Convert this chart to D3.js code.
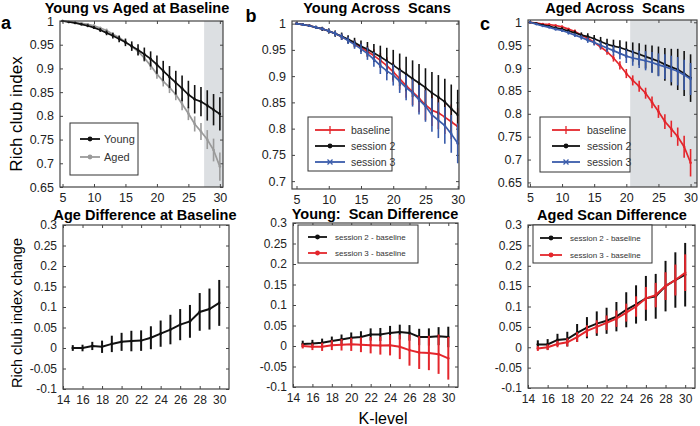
<!DOCTYPE html>
<html>
<head>
<script src="https://cdnjs.cloudflare.com/ajax/libs/d3/7.8.5/d3.min.js"></script>
<style>
  body { margin: 0; background: #fff; }
  svg { display: block; font-family: "Liberation Sans", Arial, sans-serif; }
</style>
</head>
<body>
<script>
// k-levels
var kTop = [5,6,7,8,9,10,11,12,13,14,15,16,17,18,19,20,21,22,23,24,25,26,27,28,29,30]
var kBottom = [15,16,17,18,19,20,21,22,23,24,25,26,27,28,29,30]

// rich club index, young & aged at baseline
var youngBase    = [1,0.998,0.996,0.993,0.99,0.986,0.981,0.975,0.969,0.962,0.955,0.947,0.939,0.93,0.92,0.908,0.895,0.882,0.87,0.858,0.845,0.835,0.83,0.822,0.813,0.804]
var youngBaseErr = [0.001,0.001,0.002,0.002,0.003,0.003,0.004,0.005,0.006,0.007,0.008,0.01,0.012,0.014,0.016,0.019,0.021,0.023,0.025,0.027,0.029,0.03,0.031,0.032,0.033,0.035]
var agedBase     = [1,0.998,0.996,0.995,0.993,0.99,0.985,0.98,0.972,0.965,0.956,0.946,0.936,0.922,0.906,0.888,0.873,0.86,0.845,0.825,0.805,0.783,0.767,0.75,0.728,0.693]
var agedBaseErr  = [0.001,0.001,0.002,0.002,0.002,0.003,0.003,0.004,0.004,0.005,0.005,0.006,0.007,0.008,0.009,0.01,0.011,0.012,0.012,0.013,0.014,0.016,0.018,0.02,0.024,0.03]

// young across scans
var youngS2    = [1,0.998,0.996,0.993,0.99,0.986,0.981,0.976,0.97,0.964,0.957,0.951,0.944,0.937,0.929,0.921,0.912,0.904,0.895,0.887,0.878,0.868,0.86,0.851,0.838,0.826]
var youngS2Err = [0.001,0.002,0.002,0.003,0.004,0.005,0.006,0.007,0.008,0.009,0.011,0.014,0.017,0.021,0.025,0.029,0.031,0.033,0.035,0.036,0.037,0.04,0.042,0.044,0.046,0.048]
var youngS3    = [1,0.998,0.996,0.993,0.99,0.986,0.981,0.975,0.968,0.96,0.952,0.943,0.932,0.92,0.91,0.902,0.89,0.878,0.868,0.855,0.843,0.826,0.816,0.806,0.79,0.772]
var youngS3Err = [0.001,0.002,0.002,0.003,0.003,0.004,0.005,0.006,0.007,0.008,0.01,0.012,0.014,0.016,0.018,0.02,0.022,0.024,0.026,0.028,0.03,0.032,0.034,0.035,0.036,0.038]

// aged across scans
var agedS2    = [1,0.997,0.994,0.991,0.988,0.985,0.981,0.977,0.972,0.969,0.964,0.958,0.952,0.948,0.945,0.94,0.935,0.93,0.925,0.92,0.915,0.908,0.902,0.897,0.888,0.878]
var agedS2Err = [0.001,0.002,0.002,0.003,0.003,0.004,0.004,0.005,0.006,0.007,0.008,0.01,0.012,0.014,0.016,0.018,0.021,0.024,0.026,0.029,0.032,0.036,0.04,0.045,0.049,0.052]
var agedS3    = [1,0.996,0.992,0.989,0.985,0.982,0.977,0.972,0.967,0.961,0.956,0.95,0.944,0.938,0.932,0.926,0.922,0.919,0.916,0.912,0.907,0.903,0.898,0.893,0.885,0.876]
var agedS3Err = [0.001,0.002,0.002,0.002,0.003,0.003,0.004,0.004,0.005,0.006,0.007,0.008,0.009,0.011,0.013,0.015,0.017,0.019,0.021,0.023,0.025,0.027,0.029,0.031,0.033,0.035]

// differences (bottom row)
var ageDiff    = [0,0,0.005,0.003,0.01,0.015,0.017,0.018,0.025,0.035,0.045,0.057,0.065,0.088,0.095,0.11]
var ageDiffErr = [0.007,0.008,0.01,0.015,0.02,0.022,0.025,0.025,0.028,0.032,0.036,0.038,0.04,0.046,0.05,0.056]
var youngD2    = [0.005,0.006,0.008,0.012,0.016,0.02,0.022,0.028,0.028,0.032,0.034,0.032,0.022,0.022,0.024,0.022]
var youngD2Err = [0.008,0.009,0.01,0.011,0.012,0.013,0.014,0.015,0.016,0.017,0.018,0.019,0.02,0.021,0.022,0.025]
var youngD3    = [0,-0.002,-0.002,0.002,0.003,0.004,0.003,0.002,0.001,0.002,-0.002,-0.01,-0.016,-0.017,-0.02,-0.03]
var youngD3Err = [0.006,0.008,0.01,0.012,0.014,0.016,0.018,0.02,0.022,0.025,0.03,0.038,0.04,0.042,0.048,0.052]
var agedD2     = [0.007,0.007,0.018,0.02,0.035,0.048,0.058,0.065,0.075,0.092,0.105,0.12,0.125,0.15,0.165,0.178]
var agedD2Err  = [0.01,0.013,0.015,0.018,0.022,0.026,0.03,0.032,0.036,0.043,0.047,0.055,0.055,0.062,0.068,0.078]
var agedD3     = [-0.003,0,0.008,0.012,0.025,0.04,0.05,0.06,0.07,0.085,0.1,0.12,0.128,0.15,0.165,0.183]
var agedD3Err  = [0.006,0.007,0.008,0.01,0.012,0.014,0.016,0.018,0.02,0.022,0.025,0.028,0.03,0.034,0.038,0.045]

var topTicksX = [5,10,15,20,25,30]
var bottomTicksX = [14,16,18,20,22,24,26,28,30]
var bottomTicksY = [-0.1,-0.05,0,0.05,0.1,0.15,0.2,0.25,0.3]

var RED = "#e4262c", BLUE = "#3a5cab", GRAY = "#9a9a9a", BLK = "#111"

var svg = d3.select("body").append("svg")
    .attr("width", 700)
    .attr("height", 426)

function fmt(d) {
    return String(+d.toFixed(2))
}

function panel(p) {
    var x = d3.scaleLinear().domain(p.xd).range([p.x0, p.x1])
    var y = d3.scaleLinear().domain(p.yd).range([p.y1, p.y0])
    var g = svg.append("g")

    if (p.shade) {
        g.append("rect")
            .attr("x", x(p.shade))
            .attr("y", p.y0)
            .attr("width", p.x1 - x(p.shade))
            .attr("height", p.y1 - p.y0)
            .style("fill", "#dcdfe2")
    }

    // axes: labels bottom/left, inward ticks on all four sides
    var fs = p.fs || 12.5
    g.append("g").attr("transform", "translate(0," + p.y1 + ")")
        .call(d3.axisBottom(x).tickValues(p.xt).tickSize(-3).tickPadding(6).tickFormat(fmt))
    g.append("g").attr("transform", "translate(" + p.x0 + ",0)")
        .call(d3.axisLeft(y).tickValues(p.yt).tickSize(-3).tickPadding(6).tickFormat(fmt))
    g.append("g").attr("transform", "translate(0," + p.y0 + ")")
        .call(d3.axisTop(x).tickValues(p.xt).tickSize(-3).tickFormat(""))
    g.append("g").attr("transform", "translate(" + p.x1 + ",0)")
        .call(d3.axisRight(y).tickValues(p.yt).tickSize(-3).tickFormat(""))
    g.selectAll(".domain").remove()
    g.selectAll(".tick line").style("stroke", "#444")
    g.selectAll(".tick text").style("font-size", fs + "px").style("fill", "#222")
        .style("font-family", "'Liberation Sans', Arial, sans-serif")

    // series
    p.series.forEach(function(s) {
        var pts = s.k.map(function(k, i) { return {k: k, v: s.v[i], e: s.e[i]} })
        var eg = g.append("g").style("stroke", s.c).style("stroke-width", s.ew || 1.6)
        eg.selectAll("line.bar").data(pts).enter().append("line")
            .attr("x1", function(d) { return x(d.k) })
            .attr("x2", function(d) { return x(d.k) })
            .attr("y1", function(d) { return y(d.v - d.e) })
            .attr("y2", function(d) { return y(d.v + d.e) })
        g.append("path")
            .datum(pts)
            .attr("d", d3.line().x(function(d) { return x(d.k) }).y(function(d) { return y(d.v) }))
            .style("fill", "none")
            .style("stroke", s.c)
            .style("stroke-width", s.lw || 1.7)
        g.selectAll(null).data(pts).enter().append("circle")
            .attr("cx", function(d) { return x(d.k) })
            .attr("cy", function(d) { return y(d.v) })
            .attr("r", 1.3)
            .style("fill", s.c)
    })

    // box
    g.append("rect")
        .attr("x", p.x0).attr("y", p.y0)
        .attr("width", p.x1 - p.x0).attr("height", p.y1 - p.y0)
        .style("fill", "none").style("stroke", "#444").style("stroke-width", 1.2)

    // title
    svg.append("text")
        .attr("x", p.tx).attr("y", p.ty)
        .attr("text-anchor", "middle")
        .style("font-weight", "bold").style("font-size", "14.5px")
        .style("white-space", "pre")
        .text(p.title)

    // legend
    if (p.leg) {
        var L = p.leg
        var lg = svg.append("g")
        lg.append("rect")
            .attr("x", L.x).attr("y", L.y).attr("width", L.w).attr("height", L.h)
            .style("fill", "#fff").style("stroke", "#333").style("stroke-width", 1)
        L.items.forEach(function(it, i) {
            var yy = L.ys[i]
            lg.append("line")
                .attr("x1", L.lx0).attr("x2", L.lx1).attr("y1", yy).attr("y2", yy)
                .style("stroke", it.c).style("stroke-width", 1.8)
            var mx = (L.lx0 + L.lx1) / 2
            if (it.m === "+") {
                lg.append("line").attr("x1", mx).attr("x2", mx).attr("y1", yy - 4).attr("y2", yy + 4)
                    .style("stroke", it.c).style("stroke-width", 1.3)
            } else if (it.m === "x") {
                lg.append("path").attr("d", "M" + (mx - 2.5) + "," + (yy - 2.5) + "l5,5M" + (mx - 2.5) + "," + (yy + 2.5) + "l5,-5")
                    .style("stroke", it.c).style("stroke-width", 1.3)
            } else {
                lg.append("circle").attr("cx", mx).attr("cy", yy).attr("r", 2.4).style("fill", it.c)
            }
            lg.append("text")
                .attr("x", L.tx).attr("y", yy).attr("dy", "0.35em")
                .style("font-size", L.fs + "px").style("fill", "#333")
                .text(it.t)
        })
    }
}

// top row
panel({x0: 60, x1: 223, y0: 21, y1: 187, xd: [4.6, 30.5], yd: [0.65, 1.0],
    xt: topTicksX, yt: [0.65,0.7,0.75,0.8,0.85,0.9,0.95,1], shade: 27.5,
    title: "Young vs Aged at Baseline", tx: 137, ty: 13,
    series: [
        {k: kTop, v: agedBase, e: agedBaseErr, c: GRAY},
        {k: kTop, v: youngBase, e: youngBaseErr, c: BLK}
    ],
    leg: {x: 70, y: 123, w: 68, h: 52, lx0: 80, lx1: 100, tx: 104, fs: 11, ys: [139, 157],
        items: [{t: "Young", c: BLK, m: "."}, {t: "Aged", c: GRAY, m: "."}]}
})

panel({x0: 292, x1: 459, y0: 21, y1: 189, xd: [4.3, 30.2], yd: [0.685, 1.005],
    xt: topTicksX, yt: [0.7,0.75,0.8,0.85,0.9,0.95,1],
    title: "Young Across  Scans", tx: 377, ty: 13,
    series: [
        {k: kTop, v: youngBase, e: youngBaseErr, c: RED},
        {k: kTop, v: youngS2, e: youngS2Err, c: BLK},
        {k: kTop, v: youngS3, e: youngS3Err, c: BLUE}
    ],
    leg: {x: 308, y: 117, w: 84, h: 54, lx0: 315, lx1: 345, tx: 351, fs: 10.5, ys: [130, 146, 162],
        items: [{t: "baseline", c: RED, m: "+"}, {t: "session 2", c: BLK, m: "."}, {t: "session 3", c: BLUE, m: "x"}]}
})

panel({x0: 528, x1: 697, y0: 20, y1: 187, xd: [4.7, 31.0], yd: [0.64, 1.005],
    xt: topTicksX, yt: [0.65,0.7,0.75,0.8,0.85,0.9,0.95,1], shade: 20.6,
    title: "Aged Across  Scans", tx: 615, ty: 13,
    series: [
        {k: kTop, v: agedBase, e: agedBaseErr, c: RED},
        {k: kTop, v: agedS2, e: agedS2Err, c: BLK},
        {k: kTop, v: agedS3, e: agedS3Err, c: BLUE}
    ],
    leg: {x: 540, y: 117, w: 90, h: 55, lx0: 552, lx1: 580, tx: 587, fs: 10.5, ys: [130, 146, 162],
        items: [{t: "baseline", c: RED, m: "+"}, {t: "session 2", c: BLK, m: "."}, {t: "session 3", c: BLUE, m: "x"}]}
})

// bottom row
panel({x0: 63, x1: 229, y0: 225, y1: 389, xd: [14, 31], yd: [-0.1, 0.3],
    xt: bottomTicksX, yt: bottomTicksY, fs: 12,
    title: "Age Difference at Baseline", tx: 145, ty: 220,
    series: [
        {k: kBottom, v: ageDiff, e: ageDiffErr, c: BLK, lw: 2, ew: 2}
    ]
})

panel({x0: 293, x1: 458, y0: 223, y1: 387, xd: [14, 31], yd: [-0.1, 0.3],
    xt: bottomTicksX, yt: bottomTicksY, fs: 12,
    title: "Young:  Scan Difference", tx: 375, ty: 219,
    series: [
        {k: kBottom, v: youngD2, e: youngD2Err, c: BLK, lw: 2, ew: 2},
        {k: kBottom, v: youngD3, e: youngD3Err, c: RED, lw: 2, ew: 2}
    ],
    leg: {x: 298, y: 225, w: 120, h: 38, lx0: 308, lx1: 327, tx: 335, fs: 8, ys: [237, 253],
        items: [{t: "session 2 - baseline", c: BLK, m: "."}, {t: "session 3 - baseline", c: RED, m: "."}]}
})

panel({x0: 528, x1: 695, y0: 225, y1: 388, xd: [14, 31], yd: [-0.1, 0.3],
    xt: bottomTicksX, yt: bottomTicksY, fs: 12,
    title: "Aged Scan Difference", tx: 612, ty: 220,
    series: [
        {k: kBottom, v: agedD2, e: agedD2Err, c: BLK, lw: 2, ew: 2},
        {k: kBottom, v: agedD3, e: agedD3Err, c: RED, lw: 2, ew: 2}
    ],
    leg: {x: 533, y: 225, w: 119, h: 38, lx0: 540, lx1: 562, tx: 570, fs: 8, ys: [238, 255],
        items: [{t: "session 2 - baseline", c: BLK, m: "."}, {t: "session 3 - baseline", c: RED, m: "."}]}
})

// axis titles and panel letters
svg.append("text")
    .attr("transform", "translate(22,114) rotate(-90)")
    .attr("text-anchor", "middle")
    .style("font-size", "17px")
    .text("Rich club index")

svg.append("text")
    .attr("transform", "translate(22,313) rotate(-90)")
    .attr("text-anchor", "middle")
    .style("font-size", "14.5px")
    .text("Rich club index change")

svg.append("text")
    .attr("x", 383).attr("y", 424)
    .attr("text-anchor", "middle")
    .style("font-size", "16px")
    .text("K-level")

var letters = [["a", 6, 29], ["b", 251, 22], ["c", 485, 30]]
letters.forEach(function(l) {
    svg.append("text")
        .attr("x", l[1]).attr("y", l[2])
        .attr("text-anchor", "middle")
        .style("font-weight", "bold").style("font-size", "18px")
        .text(l[0])
})
</script>
</body>
</html>
